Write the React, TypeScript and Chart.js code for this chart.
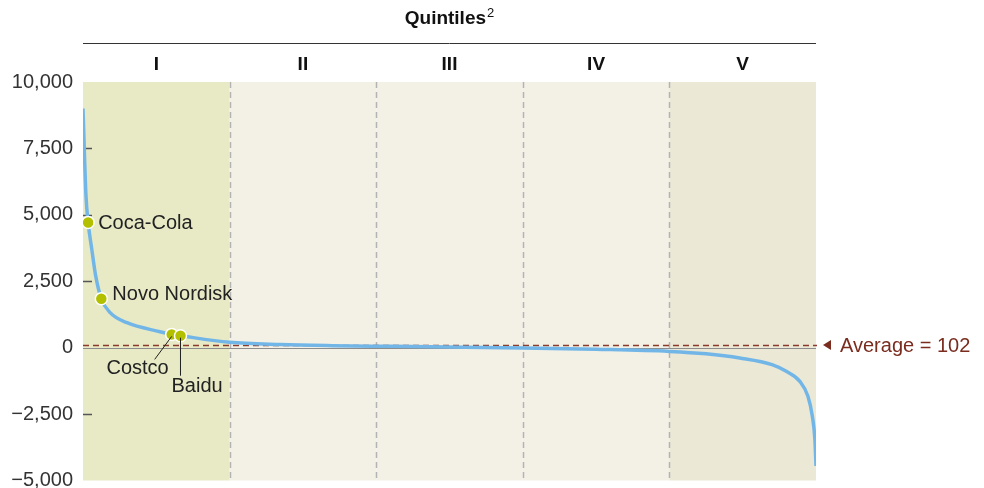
import React, { useEffect, useRef } from "react";
import { Chart, registerables } from "chart.js";

Chart.register(...registerables);

// Percentile rank of companies (x) and economic profit value (y)
const percentiles = [0, 0.4, 0.7, 1.2, 1.7, 2.5, 3.7, 6.0, 10.5, 12.1, 13.3, 20, 27, 34, 42, 50, 60, 70, 80, 85, 89.6, 94, 96, 97.8, 98.9, 99.5, 99.85, 100];
const profits = [9000, 5750, 4710, 3700, 2750, 1840, 1320, 940, 600, 500, 450, 200, 115, 75, 50, 25, -10, -60, -140, -230, -390, -640, -900, -1270, -1830, -2580, -3460, -4450];

const companies = ["Coca-Cola", "Novo Nordisk", "Costco", "Baidu"];
const companyX = [0.7, 2.5, 12.1, 13.3];
const companyY = [4710, 1840, 500, 450];

const quintileLabels = ["I", "II", "III", "IV", "V"];
const quintileBounds = [0, 20, 40, 60, 80, 100];
const quintileColors = ["#e8eac6", "#f3f1e6", "#f3f1e6", "#f3f1e6", "#ebe8d6"];

const average = 102;
const yTicks = [-5000, -2500, 0, 2500, 5000, 7500, 10000];
const FONT = "'Liberation Sans', Arial, Helvetica, sans-serif";

function fmt(v: number) {
  const s = Math.abs(v).toLocaleString("en-US");
  return v < 0 ? "\u2212" + s : s;
}

const bgPlugin = {
  id: "bg",
  beforeDatasetsDraw(chart: any) {
    const { ctx, chartArea: a, scales } = chart;
    const x = scales.x, y = scales.y;
    ctx.save();
    for (let i = 0; i < 5; i++) {
      const x0 = x.getPixelForValue(quintileBounds[i]);
      const x1 = x.getPixelForValue(quintileBounds[i + 1]);
      ctx.fillStyle = quintileColors[i];
      ctx.fillRect(x0, a.top, x1 - x0, a.bottom - a.top);
    }
    // dashed separators
    ctx.strokeStyle = "#b3b3b3";
    ctx.lineWidth = 1.5;
    ctx.setLineDash([6, 4]);
    for (let i = 1; i < 5; i++) {
      const px = Math.round(x.getPixelForValue(quintileBounds[i])) + 0.5;
      ctx.beginPath();
      ctx.moveTo(px, a.top);
      ctx.lineTo(px, a.bottom);
      ctx.stroke();
    }
    ctx.setLineDash([]);
    // small tick marks
    ctx.strokeStyle = "#555";
    ctx.lineWidth = 1.5;
    [7500, 5000, 2500, -2500].forEach((v) => {
      const py = Math.round(y.getPixelForValue(v)) + 0.5;
      ctx.beginPath();
      ctx.moveTo(a.left, py);
      ctx.lineTo(a.left + 9, py);
      ctx.stroke();
    });
    // zero line
    const zy = Math.round(y.getPixelForValue(0)) + 0.5;
    ctx.strokeStyle = "#8c8c8c";
    ctx.lineWidth = 1;
    ctx.beginPath();
    ctx.moveTo(a.left, zy);
    ctx.lineTo(a.right, zy);
    ctx.stroke();
    // average line
    const ay = Math.round(y.getPixelForValue(average)) + 0.5;
    ctx.strokeStyle = "#8a3b2b";
    ctx.lineWidth = 1.5;
    ctx.setLineDash([6, 4]);
    ctx.beginPath();
    ctx.moveTo(a.left, ay);
    ctx.lineTo(a.right + 1, ay);
    ctx.stroke();
    ctx.setLineDash([]);
    ctx.restore();
  },
  afterDraw(chart: any) {
    const { ctx, chartArea: a, scales } = chart;
    const x = scales.x, y = scales.y;
    ctx.save();
    // header
    ctx.fillStyle = "#111";
    ctx.font = `bold 19px ${FONT}`;
    ctx.textBaseline = "middle";
    const title = "Quintiles";
    const tw = ctx.measureText(title).width;
    ctx.font = `13px ${FONT}`;
    const sw = ctx.measureText("2").width;
    const cx = (a.left + a.right) / 2;
    const tx = cx - (tw + sw + 1) / 2;
    ctx.font = `bold 19px ${FONT}`;
    ctx.textAlign = "left";
    ctx.fillText(title, tx, 19);
    ctx.font = `13px ${FONT}`;
    ctx.fillText("2", tx + tw + 1, 13);
    ctx.strokeStyle = "#333";
    ctx.lineWidth = 1;
    ctx.beginPath();
    ctx.moveTo(a.left, 43.5);
    ctx.lineTo(a.right, 43.5);
    ctx.stroke();
    ctx.font = `bold 19px ${FONT}`;
    ctx.textAlign = "center";
    for (let i = 0; i < 5; i++) {
      const mx = (x.getPixelForValue(quintileBounds[i]) + x.getPixelForValue(quintileBounds[i + 1])) / 2;
      ctx.fillText(quintileLabels[i], mx, 65);
    }
    // average marker and label
    const ay = y.getPixelForValue(average);
    ctx.fillStyle = "#7a2c1e";
    ctx.beginPath();
    ctx.moveTo(a.right + 7, ay);
    ctx.lineTo(a.right + 15, ay - 5);
    ctx.lineTo(a.right + 15, ay + 5);
    ctx.closePath();
    ctx.fill();
    ctx.font = `20px ${FONT}`;
    ctx.textAlign = "left";
    ctx.fillText(`Average = ${average}`, a.right + 24, ay + 2);
    // company labels
    ctx.fillStyle = "#222";
    ctx.strokeStyle = "#222";
    ctx.lineWidth = 1;
    const pts = companies.map((_, i) => ({ px: x.getPixelForValue(companyX[i]), py: y.getPixelForValue(companyY[i]) }));
    ctx.fillText(companies[0], pts[0].px + 10, pts[0].py + 1);
    ctx.fillText(companies[1], pts[1].px + 11, pts[1].py - 4);
    // Costco leader
    ctx.beginPath();
    ctx.moveTo(pts[2].px, pts[2].py + 2);
    ctx.lineTo(pts[2].px - 17, pts[2].py + 25);
    ctx.stroke();
    ctx.textAlign = "right";
    ctx.fillText(companies[2], pts[2].px - 3, pts[2].py + 34);
    // Baidu leader
    ctx.beginPath();
    ctx.moveTo(pts[3].px, pts[3].py + 2);
    ctx.lineTo(pts[3].px, pts[3].py + 40);
    ctx.stroke();
    ctx.textAlign = "left";
    ctx.fillText(companies[3], pts[3].px - 9, pts[3].py + 51);
    ctx.restore();
  },
};

export default function App() {
  const ref = useRef<HTMLCanvasElement | null>(null);
  useEffect(() => {
    if (!ref.current) return;
    const chart = new Chart(ref.current, {
      type: "scatter",
      data: {
        datasets: [
          {
            type: "scatter",
            data: companyX.map((v, i) => ({ x: v, y: companyY[i] })),
            pointRadius: 6,
            pointHoverRadius: 6,
            backgroundColor: "#b2c000",
            borderColor: "#ffffff",
            borderWidth: 1.5,
            order: 0,
          },
          {
            type: "line",
            data: percentiles.map((p, i) => ({ x: p, y: profits[i] })),
            borderColor: "#72b6e8",
            borderWidth: 3.5,
            pointRadius: 0,
            fill: false,
            cubicInterpolationMode: "monotone",
            order: 1,
          } as any,
        ],
      },
      options: {
        animation: false,
        responsive: false,
        events: [],
        layout: { padding: { top: 82, right: 168, bottom: 7, left: 0 } },
        plugins: { legend: { display: false }, tooltip: { enabled: false }, title: { display: false } },
        scales: {
          x: { type: "linear", min: 0, max: 100, display: false },
          y: {
            type: "linear",
            min: -5000,
            max: 10000,
            afterBuildTicks: (s: any) => {
              s.ticks = yTicks.map((v) => ({ value: v }));
            },
            afterFit: (s: any) => {
              s.width = 83;
              s.paddingTop = 0;
              s.paddingBottom = 0;
            },
            grid: { display: false, drawTicks: false },
            border: { display: false },
            ticks: {
              padding: 10,
              color: "#333",
              font: { family: FONT, size: 20 },
              callback: (v: any) => fmt(Number(v)),
            },
          },
        },
      },
      plugins: [bgPlugin],
    });
    return () => chart.destroy();
  }, []);
  return (
    <div style={{ position: "absolute", left: 0, top: 0, width: 984, height: 488 }}>
      <canvas ref={ref} width={984} height={488} />
    </div>
  );
}
